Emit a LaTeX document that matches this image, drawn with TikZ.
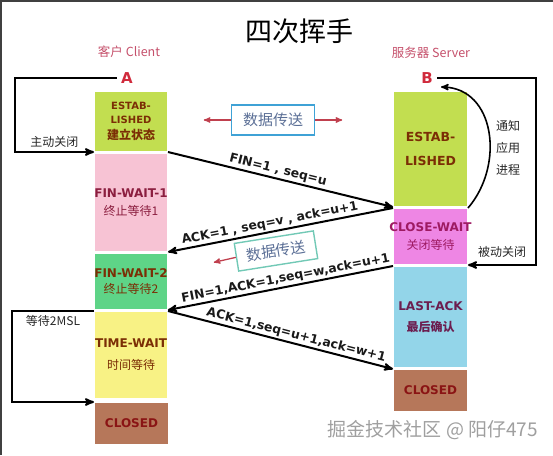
\documentclass[tikz,border=0pt]{standalone}
\usepackage{fontspec}
\setmainfont{Noto Sans CJK SC}
\newfontfamily\lat{DejaVu Sans}
\usetikzlibrary{arrows,positioning}

\definecolor{estfill}{HTML}{C2DE50}
\definecolor{fwonefill}{HTML}{F7C3D4}
\definecolor{fwtwofill}{HTML}{5ED487}
\definecolor{twfill}{HTML}{F8F285}
\definecolor{clfill}{HTML}{B6775A}
\definecolor{cwfill}{HTML}{EE86E4}
\definecolor{lafill}{HTML}{93D5E9}
\definecolor{rosered}{HTML}{C5506B}
\definecolor{markred}{HTML}{D02A3C}
\definecolor{datablue}{HTML}{3FA2D6}
\definecolor{datateal}{HTML}{72C9B6}
\definecolor{datatext}{HTML}{5B6F96}
\definecolor{arrowred}{HTML}{C0404E}
\definecolor{brownt}{HTML}{7B2E05}
\definecolor{winet}{HTML}{8B1E3F}
\definecolor{purplet}{HTML}{9E1A62}
\definecolor{plumt}{HTML}{6C1D4F}
\definecolor{redt}{HTML}{8A1414}

\newcommand{\boxlat}[1]{\makebox[0pt]{\lat\bfseries #1}}

\begin{document}
\begin{tikzpicture}[x=1pt,y=-1pt,>=stealth',line width=2pt]
  \tikzstyle{stage}=[anchor=north,inner sep=0pt,minimum width=72pt,align=center,
                     font=\fontsize{12}{18}\selectfont]
  \tikzstyle{side}=[font=\fontsize{12}{22}\selectfont,text=black!85,align=center]
  \tikzstyle{msg}=[sloped,above,inner sep=1.5pt,text=black!90,
                   font=\lat\bfseries\fontsize{12.4}{15}\selectfont]
  \tikzstyle{databox}=[draw,line width=1.4pt,inner sep=0pt,minimum width=83pt,
                       minimum height=30pt,text=datatext,font=\fontsize{15}{18}\selectfont]
  \tikzstyle{flow}=[->,line width=1.3pt,arrowred]

  \useasboundingbox (0,0) rectangle (553,455);
  \draw[line width=1.5pt,black!75] (0.75,455) -- (0.75,0.75) -- (553,0.75);

  \node (title) at (299,31) {\fontsize{27}{30}\selectfont 四次挥手};
  \node[text=rosered,font=\fontsize{12.5}{15}\selectfont] (client) at (129,52) {客户 Client};
  \node[text=rosered,font=\fontsize{12.5}{15}\selectfont] (server) at (431,53) {服务器 Server};
  \node[text=markred,font=\lat\bfseries\fontsize{15}{18}\selectfont] (A) at (127,78) {A};
  \node[text=markred,font=\lat\bfseries\fontsize{15}{18}\selectfont] (B) at (427,78) {B};

  % client side
  \node[stage,fill=estfill,text=brownt,minimum height=59pt,font=\fontsize{10}{14}\selectfont]
       (estA) at (131,91) {\boxlat{ESTAB-}\\\boxlat{LISHED}\\[2pt]\fontsize{12}{14}\selectfont\textbf{建立状态}};
  \node[stage,fill=fwonefill,text=winet,minimum height=97pt] (fw1) at (131,153)
       {\boxlat{FIN-WAIT-1}\\终止等待1};
  \node[stage,fill=fwtwofill,text=brownt,minimum height=55pt,font=\fontsize{12}{16}\selectfont]
       (fw2) at (131,253) {\boxlat{FIN-WAIT-2}\\终止等待2};
  \node[stage,fill=twfill,text=brownt,minimum height=86pt,font=\fontsize{12}{22}\selectfont]
       (tw) at (131,311) {\boxlat{TIME-WAIT}\\时间等待};
  \node[stage,fill=clfill,text=redt,minimum height=41pt,minimum width=73pt] (clA) at (131.5,402)
       {\boxlat{CLOSED}};

  % server side
  \node[stage,fill=estfill,text=brownt,minimum height=114pt,minimum width=73pt,
        font=\fontsize{12.5}{24}\selectfont] (estB) at (430.5,91) {\boxlat{ESTAB-}\\\boxlat{LISHED}};
  \node[stage,fill=cwfill,text=purplet,minimum height=55pt,minimum width=73pt] (cw) at (430.5,208)
       {\boxlat{CLOSE-WAIT}\\关闭等待};
  \node[stage,fill=lafill,text=plumt,minimum height=100pt,minimum width=73pt,
        font=\fontsize{12}{21}\selectfont] (la) at (430.5,266) {\boxlat{LAST-ACK}\\\textbf{最后确认}};
  \node[stage,fill=clfill,text=redt,minimum height=41pt,minimum width=73pt] (clB) at (430.5,369)
       {\boxlat{CLOSED}};

  % segments
  \draw[->] (estA.south east) -- node[msg,pos=0.48] {FIN=1 , seq=u} (estB.south west);
  \draw[<-] (fw1.south east) -- node[msg,pos=0.46] {ACK=1 , seq=v , ack=u+1} (cw.north west);
  \draw[<-] (fw2.south east) -- node[msg,pos=0.53] {FIN=1,ACK=1,seq=w,ack=u+1} (la.north west);
  \draw[->] (tw.north east) -- node[msg,pos=0.56] {ACK=1,seq=u+1,ack=w+1} (clB.north west);

  % loops
  \draw[->] (A.west) -- ++(-102,0) |- node[side,pos=0.75,above] {主动关闭} (estA.south west);
  \draw[->] (tw.north west) -- node[side,below] {等待2MSL} ++(-82,0) |- (clA.north west);
  \draw[->] (B.east) -- ++(99,0) |- node[side,pos=0.75,above,yshift=3pt] {被动关闭} (cw.south east);
  \coordinate (Btip) at (441,87);
  \draw[->,line width=1.6pt] (cw.north east) .. controls (505,165) and (495,88) .. (Btip);
  \node[side] (notify) at (508,148) {通知\\应用\\进程};

  % data transfer
  \node[databox,draw=datablue] (dataA) at (273,120) {数据传送};
  \draw[flow] (dataA.west) -- ++(-27,0);
  \draw[flow] (dataA.east) -- ++(27,0);
  \node[databox,draw=datateal,rotate=9,minimum width=80pt,minimum height=28pt] (dataB) at (276,251) {数据传送};
  \draw[flow] (dataB.west) -- ++(-22,5);

  \node[text=gray!75,font=\fontsize{19}{22}\selectfont] (mark) at (433,430) {掘金技术社区 @ 阳仔475};
\end{tikzpicture}
\end{document}
